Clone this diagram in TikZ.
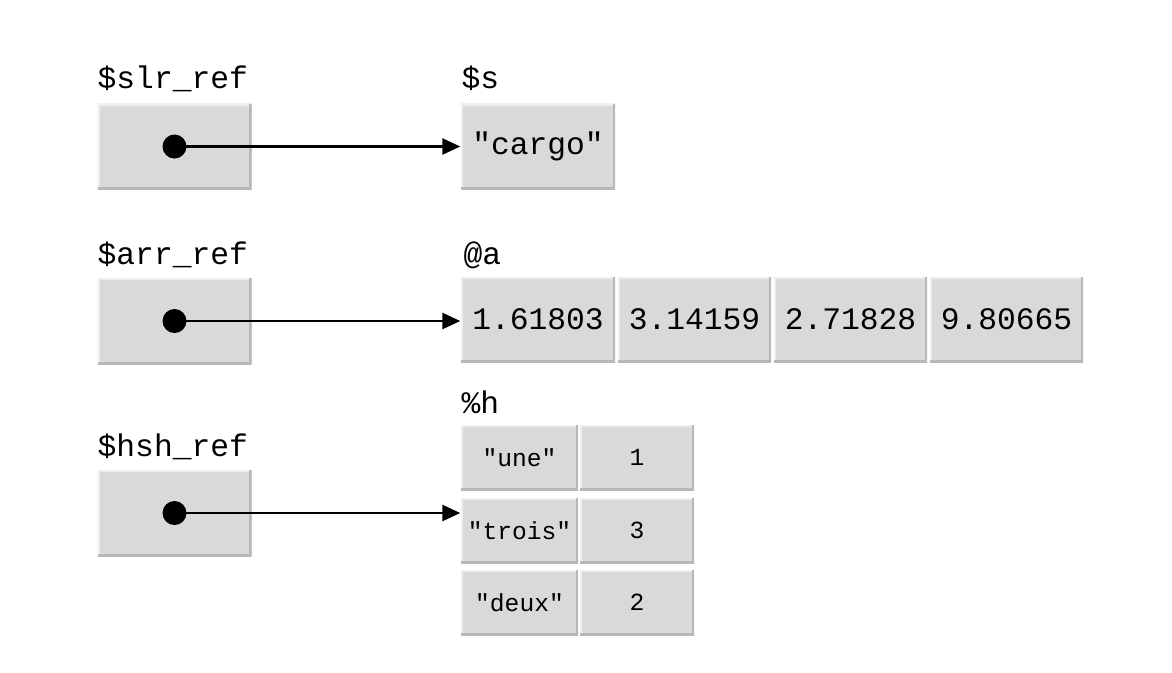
\documentclass[tikz,border=0pt]{standalone}
\usepackage{fontspec}
\newfontfamily\codefont{Liberation Mono}
\usetikzlibrary{arrows.meta, positioning, calc}
\definecolor{cellfill}{HTML}{D9D9D9}
\definecolor{celllight}{HTML}{EEEEEE}
\definecolor{celldark}{HTML}{B8B8B8}
\tikzset{
  cell/.style = {rectangle, fill=cellfill, inner sep=0pt, minimum height=0.86cm, minimum width=1.54cm,
                 font=\codefont\fontsize{8.9}{10}\selectfont,
                 path picture={
                   \draw[celllight, line width=1.2pt] (path picture bounding box.south west) |- (path picture bounding box.north east);
                   \draw[celldark, line width=1.2pt] (path picture bounding box.south west) -| (path picture bounding box.north east);
                 }},
  hcell/.style = {cell, minimum height=0.65cm, font=\codefont\fontsize{7}{8}\selectfont},
  varname/.style = {anchor=base west, inner sep=0pt, font=\codefont\fontsize{8.9}{10}\selectfont},
  refdot/.style = {circle, fill=black, inner sep=0pt, minimum size=0.24cm},
  arrow/.style = {line width=0.75pt, -{Triangle[length=0.18cm, width=0.16cm]}}
}

\begin{document}
\begin{tikzpicture}[x=1cm, y=-1cm]
    \useasboundingbox (0,0) rectangle (11.72,6.72);

    % scalar reference
    \node[cell] (slrref) at (1.745,1.465) {};
    \node[varname] (slrname) at (0.97,0.88) {\$slr\_ref};
    \node[cell] (s) at (5.38,1.465) {"cargo"};
    \node[varname] (sname) at (4.61,0.88) {\$s};

    % array reference
    \node[cell] (arrref) at (1.745,3.21) {};
    \node[varname] (arrname) at (0.97,2.64) {\$arr\_ref};
    \node[cell, minimum height=0.85cm] (a1) at (5.38,3.195) {1.61803};
    \node[cell, minimum height=0.85cm, minimum width=1.53cm] (a2) at (6.945,3.195) {3.14159};
    \node[cell, minimum height=0.85cm, minimum width=1.53cm] (a3) at (8.505,3.195) {2.71828};
    \node[cell, minimum height=0.85cm, minimum width=1.53cm] (a4) at (10.065,3.195) {9.80665};
    \node[varname] (aname) at (4.63,2.64) {@a};

    % hash reference
    \node[cell] (hshref) at (1.745,5.13) {};
    \node[varname] (hshname) at (0.97,4.56) {\$hsh\_ref};
    \node[varname] (hname) at (4.61,4.13) {\%h};
    \node[hcell, minimum width=1.17cm] (hk1) at (5.195,4.575) {"une"};
    \node[hcell, minimum width=1.14cm] (hv1) at (6.37,4.575) {1};
    \node[hcell, minimum width=1.17cm] (hk2) at (5.195,5.305) {"trois"};
    \node[hcell, minimum width=1.14cm] (hv2) at (6.37,5.305) {3};
    \node[hcell, minimum width=1.17cm] (hk3) at (5.195,6.025) {"deux"};
    \node[hcell, minimum width=1.14cm] (hv3) at (6.37,6.025) {2};

    % dots and pointers
    \node[refdot] (slrdot) at (slrref.center) {};
    \node[refdot] (arrdot) at (arrref.center) {};
    \node[refdot] (hshdot) at (hshref.center) {};

    \draw[arrow] (slrdot.center) -- (slrdot -| s.west);
    \draw[arrow] (arrdot.center) -- (arrdot -| a1.west);
    \draw[arrow] (hshdot.center) -- (hshdot -| hk2.west);

\end{tikzpicture}
\end{document}
